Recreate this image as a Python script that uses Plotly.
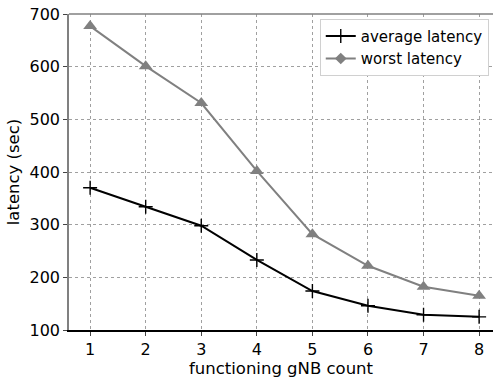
import plotly.graph_objects as go

gnb_count = [1, 2, 3, 4, 5, 6, 7, 8]
average_latency = [370, 334, 298, 233, 174, 146, 129, 125]
worst_latency = [677, 601, 531, 402, 282, 222, 182, 165]
y_ticks = [100, 200, 300, 400, 500, 600, 700]

fig = go.Figure()
fig.add_trace(go.Scatter(
    x=gnb_count, y=average_latency, mode="lines+markers", name="average latency",
    line=dict(color="black", width=2),
    marker=dict(symbol="cross-thin", size=10, line=dict(color="black", width=1.4)),
))
# legend entry for worst latency (diamond marker as in the reference legend)
fig.add_trace(go.Scatter(
    x=[None], y=[None], mode="lines+markers", name="worst latency",
    line=dict(color="#808080", width=2),
    marker=dict(symbol="diamond", size=9, color="#808080"),
))
fig.add_trace(go.Scatter(
    x=gnb_count, y=worst_latency, mode="lines+markers", showlegend=False,
    name="worst latency",
    line=dict(color="#808080", width=2),
    marker=dict(symbol="triangle-up", size=12, color="#808080"),
))

fig.update_layout(
    width=493, height=381,
    margin=dict(l=69, r=0, t=14, b=51),
    plot_bgcolor="white", paper_bgcolor="white",
    font=dict(family="DejaVu Sans", size=15, color="black"),
    legend=dict(x=0.99, y=0.985, xanchor="right", yanchor="top",
                bgcolor="white", bordercolor="#d0d0d0", borderwidth=1,
                font=dict(size=15), tracegroupgap=0),
    shapes=[dict(type="line", xref="paper", yref="paper", x0=0, x1=1, y0=1, y1=1,
                 line=dict(color="#808080", width=1.5))],
)
fig.update_xaxes(
    range=[0.62, 8.25], tickvals=gnb_count, ticks="outside", ticklen=4,
    showline=True, linecolor="black", linewidth=1.5,
    showgrid=True, gridcolor="#a0a0a0", griddash="dot", gridwidth=1,
    zeroline=False, tickfont=dict(size=16),
    title=dict(text="functioning gNB count", font=dict(size=16.5), standoff=4),
)
fig.update_yaxes(
    range=[100, 700], tickvals=y_ticks, ticks="outside", ticklen=4,
    showline=True, linecolor="#808080", linewidth=1.5,
    showgrid=True, gridcolor="#a0a0a0", griddash="dot", gridwidth=1,
    zeroline=False, tickfont=dict(size=16),
    title=dict(text="latency (sec)", font=dict(size=16.5), standoff=6),
)
fig.write_html("out.html")
